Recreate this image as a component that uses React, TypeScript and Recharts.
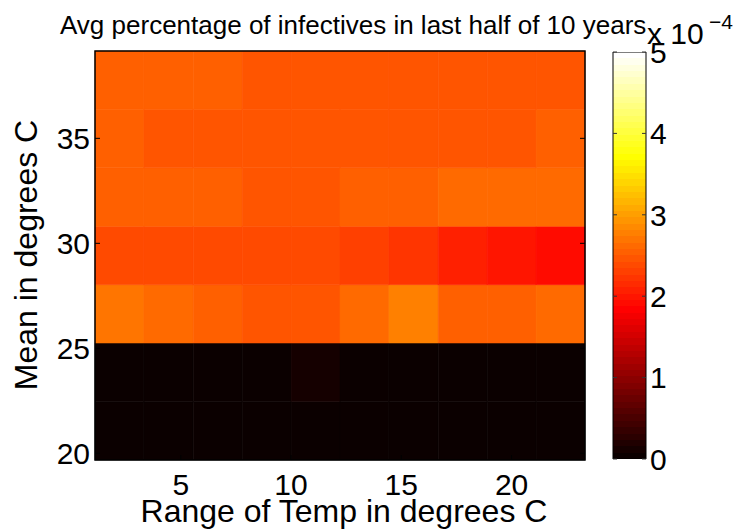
import { Bar, BarChart, ComposedChart, ReferenceArea, Scatter, XAxis, YAxis } from 'recharts'

const FONT = '"Liberation Sans", Arial, Helvetica, sans-serif'

// cell edges
const rangeEdges = [1.11, 3.33, 5.56, 7.78, 10.0, 12.22, 14.44, 16.67, 18.89, 21.11, 23.33]
const meanEdges = [19.68, 22.46, 25.25, 28.03, 30.81, 33.6, 36.38, 39.16]
const rangeTicks = [5, 10, 15, 20]
const meanTicks = [20, 25, 30, 35]
const colorTicks = [0, 1, 2, 3, 4, 5]

// avg % infectives (x 1e-4), one row per mean band, bottom to top
const infectives = [
  [0.04, 0.04, 0.04, 0.04, 0.04, 0.04, 0.04, 0.04, 0.04, 0.04],
  [0.04, 0.04, 0.04, 0.04, 0.12, 0.04, 0.04, 0.04, 0.04, 0.04],
  [2.7, 2.62, 2.54, 2.46, 2.46, 2.62, 2.77, 2.54, 2.54, 2.62],
  [2.38, 2.38, 2.38, 2.38, 2.38, 2.3, 2.23, 2.07, 1.99, 1.91],
  [2.54, 2.54, 2.54, 2.46, 2.46, 2.54, 2.54, 2.62, 2.62, 2.62],
  [2.54, 2.46, 2.46, 2.46, 2.46, 2.46, 2.46, 2.46, 2.46, 2.54],
  [2.54, 2.54, 2.54, 2.46, 2.46, 2.46, 2.46, 2.46, 2.46, 2.46],
]
const colorMax = 5

// matlab hot(64)
function hotIndex(i: number) {
  const r = Math.min(1, (i + 1) / 24)
  const g = Math.max(0, Math.min(1, (i + 1 - 24) / 24))
  const b = Math.max(0, Math.min(1, (i + 1 - 48) / 16))
  return `rgb(${Math.round(r * 255)},${Math.round(g * 255)},${Math.round(b * 255)})`
}
function hot(v: number) {
  return hotIndex(Math.max(0, Math.min(63, Math.floor((v / colorMax) * 64))))
}

const cells = infectives.flatMap((row, r) =>
  row.map((v, c) => ({
    x1: rangeEdges[c],
    x2: rangeEdges[c + 1],
    y1: meanEdges[r],
    y2: meanEdges[r + 1],
    x: (rangeEdges[c] + rangeEdges[c + 1]) / 2,
    y: (meanEdges[r] + meanEdges[r + 1]) / 2,
    v,
  }))
)

const labelStyle = { fontFamily: FONT, fontSize: 30, fill: '#000' }

const BottomTick = ({ x, y, payload }: any) => (
  <g>
    <line x1={x} y1={y} x2={x} y2={y - 5} stroke="#000" />
    <text x={x} y={y + 35} textAnchor="middle" style={labelStyle}>{payload.value}</text>
  </g>
)
const LeftTick = ({ x, y, payload }: any) => (
  <g>
    <line x1={x + 5} y1={y} x2={x + 10} y2={y} stroke="#000" />
    <text x={x} y={y} dy="0.36em" textAnchor="end" style={labelStyle}>{payload.value}</text>
  </g>
)
const TopTick = ({ x, y }: any) => <line x1={x} y1={y} x2={x} y2={y + 5} stroke="#000" />
const RightTick = ({ x, y }: any) => <line x1={x} y1={y} x2={x - 5} y2={y} stroke="#000" />
const BarTick = ({ x, y, payload }: any) => (
  <g>
    <line x1={x} y1={y} x2={x - 4} y2={y} stroke="#333" />
    <line x1={x - 33} y1={y} x2={x - 29} y2={y} stroke="#333" />
    <text x={x + 4} y={y} dy="0.36em" textAnchor="start" style={labelStyle}>{payload.value}</text>
  </g>
)

const hotStops = Array.from({ length: 64 }, (_, i) => i)
const colorbar = [{ name: 'scale', top: colorMax }]

export default function App() {
  const domX: [number, number] = [rangeEdges[0], rangeEdges[rangeEdges.length - 1]]
  const domY: [number, number] = [meanEdges[0], meanEdges[meanEdges.length - 1]]
  return (
    <div style={{ position: 'absolute', left: 0, top: 0, width: 734, height: 531, background: '#fff' }}>
      <div style={{ position: 'absolute', left: 0, top: 0 }}>
        <ComposedChart width={734} height={531} margin={{ top: 50, right: 148, bottom: 31, left: 35 }}>
          <XAxis type="number" dataKey="x" domain={domX} ticks={rangeTicks} allowDataOverflow interval={0}
            axisLine={false} tickLine={false} tickSize={0} tickMargin={0} height={40} tick={<BottomTick />} />
          <XAxis xAxisId="top" orientation="top" type="number" domain={domX} ticks={rangeTicks} allowDataOverflow
            interval={0} axisLine={false} tickLine={false} tickSize={0} tickMargin={0} height={1} tick={<TopTick />} />
          <YAxis type="number" dataKey="y" domain={domY} ticks={meanTicks} allowDataOverflow interval={0}
            axisLine={false} tickLine={false} tickSize={0} tickMargin={5} width={60} tick={<LeftTick />} />
          <YAxis yAxisId="right" orientation="right" type="number" domain={domY} ticks={meanTicks} allowDataOverflow
            interval={0} axisLine={false} tickLine={false} tickSize={0} tickMargin={0} width={1} tick={<RightTick />} />
          {cells.map((c, i) => (
            <ReferenceArea key={i} x1={c.x1} x2={c.x2} y1={c.y1} y2={c.y2}
              fill={hot(c.v)} fillOpacity={1} stroke={hot(c.v)} strokeWidth={0.5} ifOverflow="visible" />
          ))}
          <ReferenceArea x1={domX[0]} x2={domX[1]} y1={domY[0]} y2={domY[1]}
            fill="none" fillOpacity={0} stroke="#000" strokeWidth={1.5} ifOverflow="visible" />
          <Scatter data={cells} dataKey="y" fill="none" shape={() => <g />} isAnimationActive={false} />
        </ComposedChart>
      </div>
      <div style={{ position: 'absolute', left: 0, top: 0 }}>
        <BarChart width={734} height={531} data={colorbar} barCategoryGap={0}
          margin={{ top: 52, right: 28, bottom: 72, left: 613 }}>
          <defs>
            <linearGradient id="hotmap" x1="0" y1="1" x2="0" y2="0">
              {hotStops.flatMap((i) => [
                <stop key={`a${i}`} offset={i / 64} stopColor={hotIndex(i)} />,
                <stop key={`b${i}`} offset={(i + 1) / 64} stopColor={hotIndex(i)} />,
              ])}
            </linearGradient>
          </defs>
          <XAxis dataKey="name" hide />
          <YAxis orientation="right" type="number" domain={[0, colorMax]} ticks={colorTicks} allowDataOverflow
            interval={0} axisLine={false} tickLine={false} tickSize={0} tickMargin={0} width={60} tick={<BarTick />} />
          <Bar dataKey="top" fill="url(#hotmap)" stroke="#000" strokeWidth={1} isAnimationActive={false} />
        </BarChart>
      </div>
      <svg width={734} height={531} style={{ position: 'absolute', left: 0, top: 0, pointerEvents: 'none' }}>
        <text x={60} y={34} style={{ fontFamily: FONT, fontSize: 26, fill: '#000' }}>
          Avg percentage of infectives in last half of 10 years
        </text>
        <text x={647} y={44} style={{ fontFamily: FONT, fontSize: 30, fill: '#000' }}>x 10</text>
        <text x={709} y={29} style={{ fontFamily: FONT, fontSize: 21, fill: '#000' }}>−4</text>
        <text x={344} y={522} textAnchor="middle" style={{ fontFamily: FONT, fontSize: 32, fill: '#000' }}>
          Range of Temp in degrees C
        </text>
        <text transform="translate(37,255) rotate(-90)" textAnchor="middle"
          style={{ fontFamily: FONT, fontSize: 32, fill: '#000' }}>
          Mean in degrees C
        </text>
      </svg>
    </div>
  )
}
